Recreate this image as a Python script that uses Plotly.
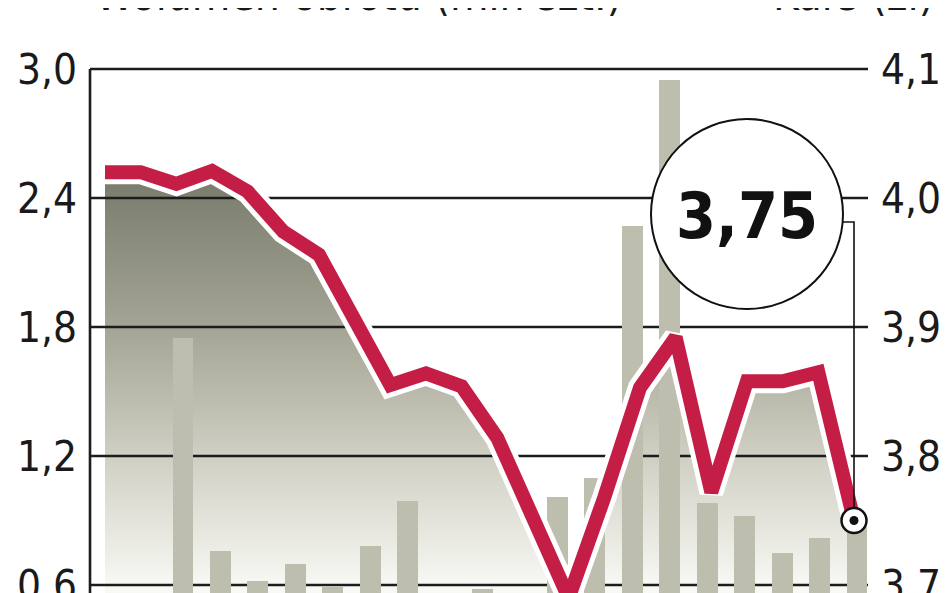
import plotly.graph_objects as go

# ---- data ----
price = [4.020, 4.020, 4.011, 4.021, 4.005, 3.974, 3.956, 3.907, 3.855, 3.864, 3.854,
         3.814, 3.750, 3.690, 3.768, 3.853, 3.892, 3.772, 3.858, 3.858, 3.865, 3.750]
volume = [0.45, 0.50, 1.75, 0.76, 0.62, 0.70, 0.59, 0.78, 0.99, 0.45, 0.58,
          0.50, 1.01, 1.10, 2.27, 2.95, 0.98, 0.92, 0.75, 0.82, 0.87]
vol_ticks = [0.6, 1.2, 1.8, 2.4, 3.0]
price_ticks = [3.7, 3.8, 3.9, 4.0, 4.1]
legend_labels = ["Wolumen obrotu (mln szt.)", "Kurs (zł)"]

idx_line = list(range(len(price)))
idx_bar = list(range(len(volume)))

FONT = "Liberation Sans Narrow, DejaVu Sans Condensed, Arial Narrow, sans-serif"
RED = "#c41e47"
BAR = "#bdbeae"
GRID = "#1c1c1c"

x_range = [-0.4206, 21.3925]
x2_range = [-0.4834, 20.2938]
y_price_range = [3.6938, 4.10698]
y_vol_range = [0.56279, 3.04186]

fig = go.Figure()

# gradient area under price
fig.add_trace(go.Scatter(
    x=idx_line, y=price, xaxis="x", yaxis="y", mode="lines",
    line=dict(width=0), fill="tozeroy",
    fillgradient=dict(type="vertical", start=price_ticks[0], stop=max(price),
                      colorscale=[[0, "#f8f8f4"], [0.31, "#cfcfc3"],
                                  [0.62, "#a4a594"], [1, "#77796a"]]),
    hoverinfo="skip", showlegend=False))

# grid lines (above the area)
gx, gy = [], []
for t in price_ticks:
    gx += [x_range[0], x_range[1], None]
    gy += [t, t, None]
fig.add_trace(go.Scatter(x=gx, y=gy, xaxis="x", yaxis="y", mode="lines",
                         line=dict(color=GRID, width=2.6), hoverinfo="skip",
                         showlegend=False))

# volume bars
fig.add_trace(go.Bar(x=idx_bar, y=volume, xaxis="x2", yaxis="y2", width=0.56,
                     marker=dict(color=BAR, line=dict(width=0)), showlegend=False))

# price line with white halo
fig.add_trace(go.Scatter(x=idx_line, y=price, xaxis="x3", yaxis="y3", mode="lines",
                         line=dict(color="white", width=24), hoverinfo="skip",
                         showlegend=False))
fig.add_trace(go.Scatter(x=idx_line, y=price, xaxis="x3", yaxis="y3", mode="lines",
                         line=dict(color=RED, width=14), showlegend=False))
# end marker
fig.add_trace(go.Scatter(x=[idx_line[-1]], y=[price[-1]], xaxis="x3", yaxis="y3",
                         mode="markers",
                         marker=dict(size=25, color="white", line=dict(color="#111", width=2.5)),
                         showlegend=False))
fig.add_trace(go.Scatter(x=[idx_line[-1]], y=[price[-1]], xaxis="x3", yaxis="y3",
                         mode="markers", marker=dict(size=9, color="#111"),
                         showlegend=False))

axis_font = dict(family=FONT, size=42, color="#1a1a1a")
legend_font = dict(family=FONT, size=44, color="#1a1a1a")

fig.update_layout(
    width=940, height=585,
    margin=dict(l=82, r=80, t=52, b=0, autoexpand=False),
    paper_bgcolor="white", plot_bgcolor="rgba(0,0,0,0)",
    separators=", ",
    bargap=0,
    xaxis=dict(range=x_range, visible=False, domain=[0, 1], automargin=False),
    xaxis2=dict(range=x2_range, visible=False, overlaying="x", automargin=False),
    xaxis3=dict(range=x_range, visible=False, overlaying="x", automargin=False),
    yaxis=dict(range=y_price_range, side="right", tickvals=price_ticks,
               tickformat=".1f", showgrid=False, zeroline=False, ticks="",
               showline=False, tickfont=axis_font, ticklabelstandoff=12,
               ticklabeloverflow="allow", automargin=False),
    yaxis2=dict(range=y_vol_range, side="left", overlaying="y", anchor="x",
                tickvals=vol_ticks, tickformat=".1f", showgrid=False,
                zeroline=False, ticks="", showline=False, tickfont=axis_font,
                ticklabelstandoff=12, ticklabeloverflow="allow", automargin=False),
    yaxis3=dict(range=y_price_range, overlaying="y", visible=False, automargin=False),
    showlegend=False,
)

# left axis line
fig.add_shape(type="line", xref="paper", x0=0, x1=0, yref="y2",
              y0=y_vol_range[0], y1=vol_ticks[-1],
              line=dict(color=GRID, width=2.6), layer="above")

# connector from the last point to the value bubble
conn_y = 3.9814
fig.add_shape(type="path", xref="x", yref="y",
              path=f"M 20.3 {conn_y} L {idx_line[-1]} {conn_y} L {idx_line[-1]} {price[-1] + 13/1290}",
              line=dict(color="#111", width=1.6), layer="above")

# value bubble
fig.add_shape(type="circle", xref="x", yref="paper", xsizemode="pixel",
              ysizemode="pixel", xanchor=18, yanchor=0.711,
              x0=-96, x1=96, y0=-95, y1=95,
              fillcolor="white", line=dict(color="#111", width=2), layer="above")
fig.add_annotation(x=18, xref="x", y=0.707, yref="paper",
                   text=f"<b>{price[-1]:.2f}</b>".replace(".", ","),
                   showarrow=False, xanchor="center", yanchor="middle",
                   font=dict(family=FONT, size=64, color="#111"))

# legend captions (cut by the top edge as in the reference)
fig.add_annotation(x=(93 - 90) / 778, xref="paper", y=1.1232, yref="paper",
                   text=legend_labels[0], showarrow=False, xanchor="left",
                   yanchor="middle", font=legend_font)
fig.add_annotation(x=(771 - 90) / 778, xref="paper", y=1.1232, yref="paper",
                   text=legend_labels[1], showarrow=False, xanchor="left",
                   yanchor="middle", font=legend_font)

fig.write_html("out.html")
